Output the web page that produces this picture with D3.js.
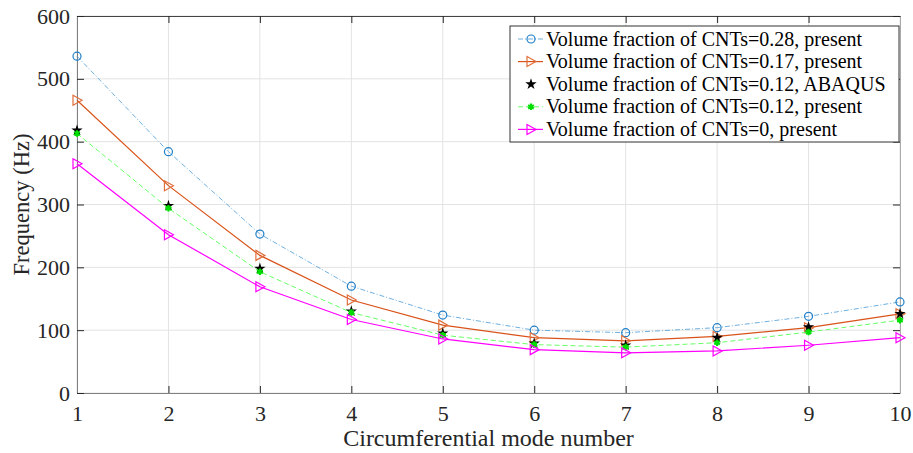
<!DOCTYPE html>
<html>
<head>
  <meta charset="utf-8">
  <script src="https://unpkg.com/d3@7.8.2/dist/d3.min.js"></script>
  <style>
    body { margin: 0; background: #fff; }
    svg { display: block; font-family: "Liberation Serif", "Times New Roman", serif; }
  </style>
</head>
<body>
<script>
  // data
  const modes = [1, 2, 3, 4, 5, 6, 7, 8, 9, 10];
  const v028 = [536, 384, 253, 170, 124, 100, 96, 104, 122, 145];
  const v017 = [466, 330, 219, 148, 108, 88, 83, 90, 104, 126];
  const v012abaqus = [418, 298, 198, 130, 95, 79, 76, 88, 105, 126];
  const v012 = [413, 294, 193, 128, 92, 77, 73, 80, 97, 116];
  const v000 = [365, 252, 169, 117, 86, 69, 64, 67, 76, 88];
  const yTicks = [0, 100, 200, 300, 400, 500, 600];
  const legendLabels = [
    "Volume fraction of CNTs=0.28, present",
    "Volume fraction of CNTs=0.17, present",
    "Volume fraction of CNTs=0.12, ABAQUS",
    "Volume fraction of CNTs=0.12, present",
    "Volume fraction of CNTs=0, present"
  ];

  const width = 913, height = 453;
  const margin = { left: 77, right: 13, top: 16, bottom: 60 };
  const x0 = margin.left, x1 = width - margin.right;
  const y0 = height - margin.bottom, y1 = margin.top;

  const svg = d3.select("body").append("svg")
    .attr("width", width)
    .attr("height", height);

  const x = d3.scaleLinear().domain([1, 10]).range([x0, x1]);
  const y = d3.scaleLinear().domain([0, 600]).range([y0, y1]);

  // grid
  svg.append("g").selectAll("line").data(modes).enter().append("line")
    .attr("x1", d => x(d)).attr("x2", d => x(d))
    .attr("y1", y0).attr("y2", y1)
    .style("stroke", "#e3e3e3").style("stroke-width", 1);
  svg.append("g").selectAll("line").data(yTicks).enter().append("line")
    .attr("x1", x0).attr("x2", x1)
    .attr("y1", d => y(d)).attr("y2", d => y(d))
    .style("stroke", "#e3e3e3").style("stroke-width", 1);

  // axes
  const axisColor = "#262626";
  const xAxis = svg.append("g").attr("transform", `translate(0,${y0})`)
    .call(d3.axisBottom(x).tickValues(modes).tickFormat(d3.format("d")).tickSizeInner(-7).tickSizeOuter(0).tickPadding(12));
  const xAxisTop = svg.append("g").attr("transform", `translate(0,${y1})`)
    .call(d3.axisTop(x).tickValues(modes).tickFormat("").tickSizeInner(-7).tickSizeOuter(0));
  const yAxis = svg.append("g").attr("transform", `translate(${x0},0)`)
    .call(d3.axisLeft(y).tickValues(yTicks).tickSizeInner(-7).tickSizeOuter(0).tickPadding(7));
  const yAxisRight = svg.append("g").attr("transform", `translate(${x1},0)`)
    .call(d3.axisRight(y).tickValues(yTicks).tickFormat("").tickSizeInner(-7).tickSizeOuter(0));

  [xAxis, xAxisTop, yAxis, yAxisRight].forEach(g => {
    g.select(".domain").style("stroke", "#808080").style("stroke-width", 1);
    g.selectAll(".tick line").style("stroke", axisColor);
    g.selectAll("text").style("font-family", "Liberation Serif").style("font-size", "22px").style("fill", axisColor);
  });
  xAxisTop.select(".domain").style("stroke", "#444");
  yAxisRight.select(".domain").style("stroke", "#aaa");

  // axis labels
  svg.append("text")
    .attr("x", (x0 + x1) / 2).attr("y", 446)
    .attr("text-anchor", "middle")
    .style("font-size", "24px").style("fill", axisColor)
    .text("Circumferential mode number");
  svg.append("text")
    .attr("transform", `translate(29,${(y0 + y1) / 2}) rotate(-90)`)
    .attr("text-anchor", "middle")
    .style("font-size", "22.5px").style("fill", axisColor)
    .text("Frequency (Hz)");

  // series
  const series = [
    { values: v028, color: "#4a9ad6", mcolor: "#1f7fc8", dash: "5,2,1,2", width: 0.8, marker: "circle", line: true },
    { values: v017, color: "#d95319", mcolor: "#e0703c", dash: null, width: 1.2, marker: "tri", line: true },
    { values: v012abaqus, color: "#000", mcolor: "#000", dash: null, width: 0, marker: "star", line: false },
    { values: v012, color: "#66ff66", mcolor: "#00dd00", dash: "5,3", width: 1, marker: "ast", line: true },
    { values: v000, color: "#ff00ff", mcolor: "#ff00ff", dash: null, width: 1.2, marker: "tri", line: true }
  ];

  const lineGen = d3.line().x((d, i) => x(modes[i])).y(d => y(d));

  function drawMarker(g, kind, cx, cy, col) {
    if (kind === "circle") {
      g.append("circle").attr("cx", cx).attr("cy", cy).attr("r", 4)
        .style("fill", "none").style("stroke", col).style("stroke-width", 1.2);
    } else if (kind === "tri") {
      g.append("path")
        .attr("d", `M${cx - 4},${cy - 5}L${cx + 5},${cy}L${cx - 4},${cy + 5}Z`)
        .style("fill", "none").style("stroke", col).style("stroke-width", 1.2);
    } else if (kind === "star") {
      g.append("path")
        .attr("d", d3.symbol(d3.symbolStar, 40)())
        .attr("transform", `translate(${cx},${cy})`)
        .style("fill", col);
    } else if (kind === "ast") {
      g.append("path")
        .attr("d", d3.symbol(d3.symbolAsterisk, 30)())
        .attr("transform", `translate(${cx},${cy})`)
        .style("fill", "none").style("stroke", col).style("stroke-width", 2.2);
    }
  }

  series.forEach(s => {
    const g = svg.append("g");
    if (s.line) {
      g.append("path").datum(s.values)
        .attr("d", lineGen)
        .style("fill", "none").style("stroke", s.color)
        .style("stroke-width", s.width)
        .style("stroke-dasharray", s.dash);
    }
    s.values.forEach((v, i) => drawMarker(g, s.marker, x(modes[i]), y(v), s.mcolor));
  });

  // legend
  const lg = svg.append("g");
  const lx = 510, ly = 26, lw = 389, lh = 116;
  lg.append("rect").attr("x", lx).attr("y", ly).attr("width", lw).attr("height", lh)
    .style("fill", "#fff").style("stroke", "#333").style("stroke-width", 1);
  series.forEach((s, i) => {
    const cy = ly + 13 + i * 22.6;
    if (s.line) {
      lg.append("line").attr("x1", lx + 8).attr("x2", lx + 33).attr("y1", cy).attr("y2", cy)
        .style("stroke", s.color).style("stroke-width", s.width)
        .style("stroke-dasharray", s.dash);
    }
    drawMarker(lg, s.marker, lx + 21, cy, s.mcolor);
    lg.append("text").attr("x", lx + 36).attr("y", cy + 6.5)
      .style("font-size", "20px").style("fill", "#000")
      .text(legendLabels[i]);
  });
</script>
</body>
</html>
